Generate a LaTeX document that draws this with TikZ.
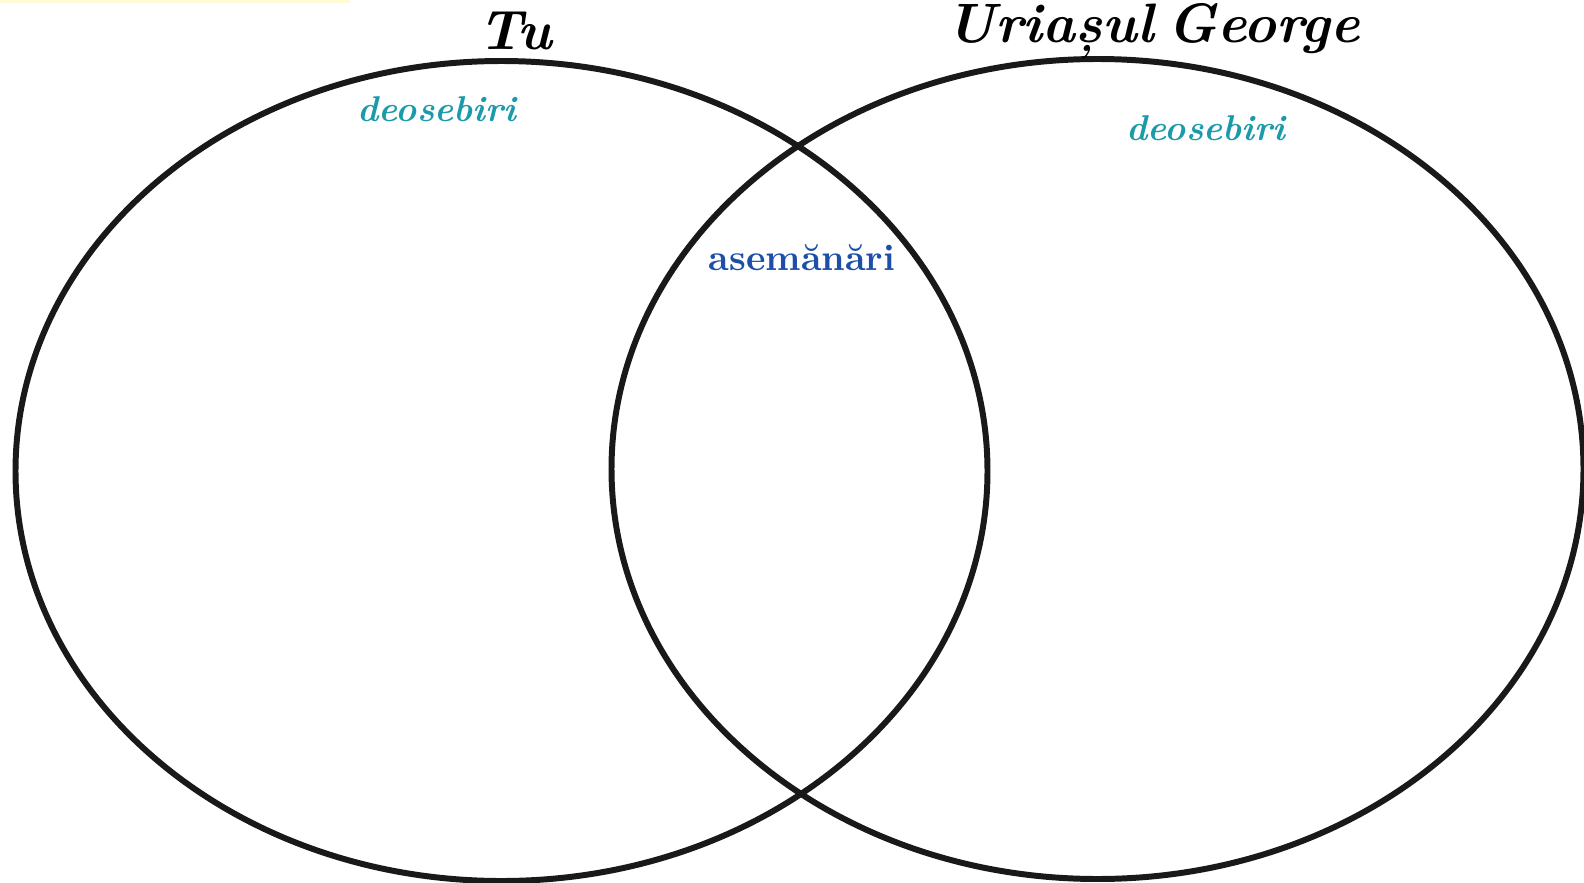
\documentclass[tikz,border=0pt]{standalone}
\usepackage{tikz}
\usetikzlibrary{shapes.geometric}
\usepackage{xcolor}

\definecolor{tealtxt}{HTML}{1B9AAA}
\definecolor{bluetxt}{HTML}{1D4FA8}
\definecolor{barylw}{HTML}{FFFBD6}

\begin{document}
\begin{tikzpicture}[
  set/.style={draw=black!90, line width=1.7pt, ellipse, inner sep=0pt, minimum width=9.72cm, minimum height=8.2cm},
  title/.style={font=\fontsize{15.8}{18}\selectfont\bfseries\itshape, inner sep=0pt},
  diff/.style={font=\fontsize{10.2}{12}\selectfont\bfseries\itshape, text=tealtxt, inner sep=0pt},
  same/.style={font=\fontsize{10.5}{12}\selectfont\bfseries, text=bluetxt, inner sep=0pt},
]
\useasboundingbox (0,0) rectangle (15.84,8.82);
\fill[barylw] (0,8.79) rectangle (3.5,8.82);
% the two sets
\node[set] (tu) at (5.015,4.11) {};
\node[set] (george) at (10.975,4.13) {};
% headings
\node[title] (ttu) at (5.15,8.51) {Tu};
\node[title] (tgeorge) at (11.53,8.50) {Uriașul\hspace{0.25em}George};
% labels inside
\node[diff] (dtu) at (4.37,7.73) {deosebiri};
\node[diff] (dgeorge) at (12.06,7.54) {deosebiri};
\node[same] (common) at (8.02,6.24) {asemănări};
\end{tikzpicture}
\end{document}
